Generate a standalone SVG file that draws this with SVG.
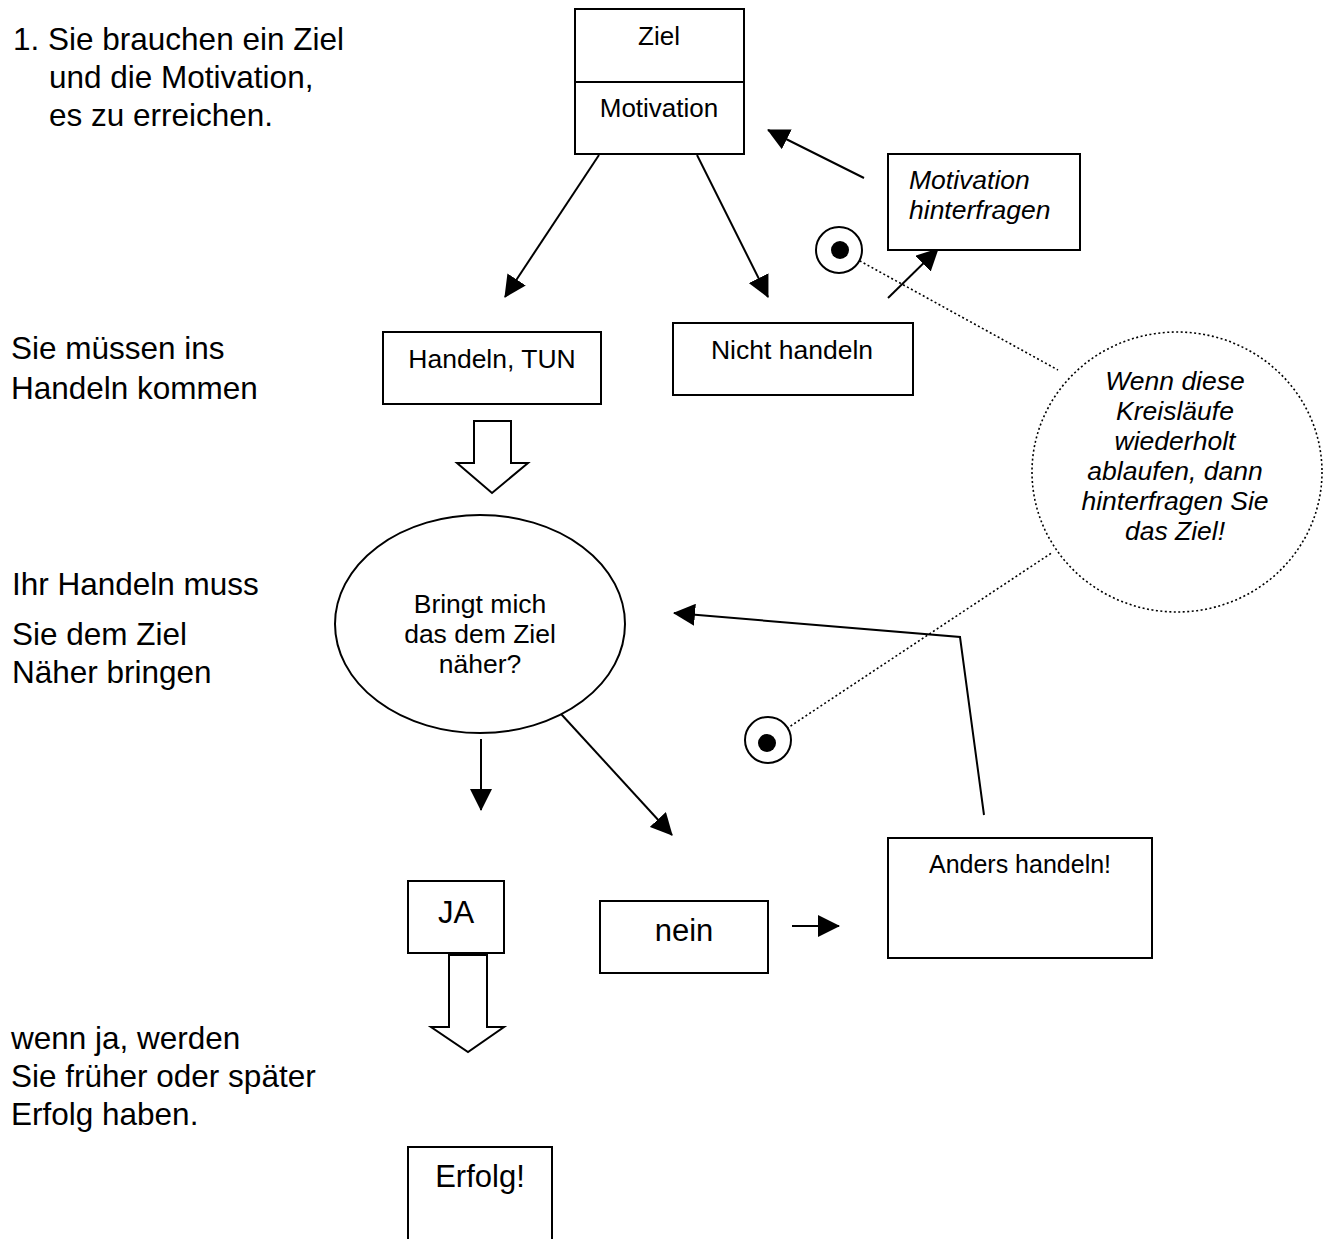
<svg xmlns="http://www.w3.org/2000/svg" width="1327" height="1239" viewBox="0 0 1327 1239">
<style>
text{font-family:"Liberation Sans",Arial,sans-serif;fill:#000}
.side{font-size:31.5px}
.box{fill:#fff;stroke:#000;stroke-width:2}
.lbl{font-size:26px;text-anchor:middle}
.it{font-style:italic}
.ln{fill:none;stroke:#000;stroke-width:2}
.dot{fill:none;stroke:#000;stroke-width:1.6;stroke-dasharray:2 2.5}
.blk{fill:#fff;stroke:#000;stroke-width:2;stroke-linejoin:miter}
</style>
<defs>
<marker id="ah" markerUnits="userSpaceOnUse" markerWidth="22" markerHeight="22" viewBox="0 0 22 22" refX="21" refY="11" orient="auto">
<path d="M0,0 L22,11 L0,22 z" fill="#000"/>
</marker>
</defs>
<rect width="1327" height="1239" fill="#fff"/>

<g id="side-texts">
<text class="side" x="13" y="50">1. Sie brauchen ein Ziel</text>
<text class="side" x="49" y="88">und die Motivation,</text>
<text class="side" x="49" y="126">es zu erreichen.</text>
<text class="side" x="11" y="359">Sie müssen ins</text>
<text class="side" x="11" y="399">Handeln kommen</text>
<text class="side" x="12" y="595">Ihr Handeln muss</text>
<text class="side" x="12" y="645">Sie dem Ziel</text>
<text class="side" x="12" y="683">Näher bringen</text>
<text class="side" x="11" y="1049">wenn ja, werden</text>
<text class="side" x="11" y="1087">Sie früher oder später</text>
<text class="side" x="11" y="1125">Erfolg haben.</text>
</g>

<g id="connectors">
<line class="ln" x1="599" y1="155" x2="505" y2="297" marker-end="url(#ah)"/>
<line class="ln" x1="697" y1="155" x2="768" y2="297" marker-end="url(#ah)"/>
<line class="ln" x1="864" y1="178" x2="768" y2="130" marker-end="url(#ah)"/>
<line class="ln" x1="888" y1="298" x2="938" y2="249" marker-end="url(#ah)"/>
<line class="ln" x1="481" y1="739" x2="481" y2="810" marker-end="url(#ah)"/>
<line class="ln" x1="551" y1="703" x2="672" y2="835" marker-end="url(#ah)"/>
<line class="ln" x1="792" y1="926" x2="839" y2="926" marker-end="url(#ah)"/>
<polyline class="ln" points="984,815 960,637 674,613" marker-end="url(#ah)"/>
<line class="dot" x1="840" y1="250" x2="1058" y2="370"/>
<line class="dot" x1="768" y1="741" x2="1053" y2="552"/>
<path class="blk" d="M474,421 H511 V463 H528 L492,493 L457,463 H474 Z"/>
<path class="blk" d="M449,955 H487 V1027 H504 L468,1052 L431,1027 H449 Z"/>
</g>

<g id="ziel-motivation">
<rect class="box" x="575" y="9" width="169" height="145"/>
<line class="ln" x1="575" y1="82" x2="744" y2="82"/>
<text class="lbl" x="659" y="45">Ziel</text>
<text class="lbl" x="659" y="117">Motivation</text>
</g>

<g id="motivation-hinterfragen">
<rect class="box" x="888" y="154" width="192" height="96"/>
<text class="it" style="font-size:26.5px" x="909" y="189">Motivation</text>
<text class="it" style="font-size:26.5px" x="909" y="219">hinterfragen</text>
</g>

<g id="target-1">
<circle cx="839" cy="250" r="23" fill="#fff" stroke="#000" stroke-width="2"/>
<circle cx="840" cy="250" r="9" fill="#000"/>
</g>

<g id="handeln-tun">
<rect class="box" x="383" y="332" width="218" height="72"/>
<text class="lbl" style="font-size:26.5px" x="492" y="368">Handeln, TUN</text>
</g>

<g id="nicht-handeln">
<rect class="box" x="673" y="323" width="240" height="72"/>
<text class="lbl" style="font-size:26.5px" x="792" y="359">Nicht handeln</text>
</g>

<g id="hinweis-kreis">
<ellipse class="dot" cx="1177" cy="472" rx="145" ry="140"/>
<text class="lbl it" style="font-size:26.5px" x="1175" y="390">Wenn diese</text>
<text class="lbl it" style="font-size:26.5px" x="1175" y="420">Kreisläufe</text>
<text class="lbl it" style="font-size:26.5px" x="1175" y="450">wiederholt</text>
<text class="lbl it" style="font-size:26.5px" x="1175" y="480">ablaufen, dann</text>
<text class="lbl it" style="font-size:26.5px" x="1175" y="510">hinterfragen Sie</text>
<text class="lbl it" style="font-size:26.5px" x="1175" y="540">das Ziel!</text>
</g>

<g id="frage">
<ellipse class="box" cx="480" cy="624" rx="145" ry="109"/>
<text class="lbl" style="font-size:26.5px" x="480" y="613">Bringt mich</text>
<text class="lbl" style="font-size:26.5px" x="480" y="643">das dem Ziel</text>
<text class="lbl" style="font-size:26.5px" x="480" y="673">näher?</text>
</g>

<g id="target-2">
<circle cx="768" cy="740" r="23" fill="#fff" stroke="#000" stroke-width="2"/>
<circle cx="767" cy="743" r="9" fill="#000"/>
</g>

<g id="ja">
<rect class="box" x="408" y="881" width="96" height="72"/>
<text class="lbl" style="font-size:31px" x="456" y="923">JA</text>
</g>

<g id="nein">
<rect class="box" x="600" y="901" width="168" height="72"/>
<text class="lbl" style="font-size:31px" x="684" y="941">nein</text>
</g>

<g id="anders-handeln">
<rect class="box" x="888" y="838" width="264" height="120"/>
<text class="lbl" style="font-size:25px" x="1020" y="873">Anders handeln!</text>
</g>

<g id="erfolg">
<rect class="box" x="408" y="1147" width="144" height="100"/>
<text class="lbl" style="font-size:31px" x="480" y="1187">Erfolg!</text>
</g>
</svg>
